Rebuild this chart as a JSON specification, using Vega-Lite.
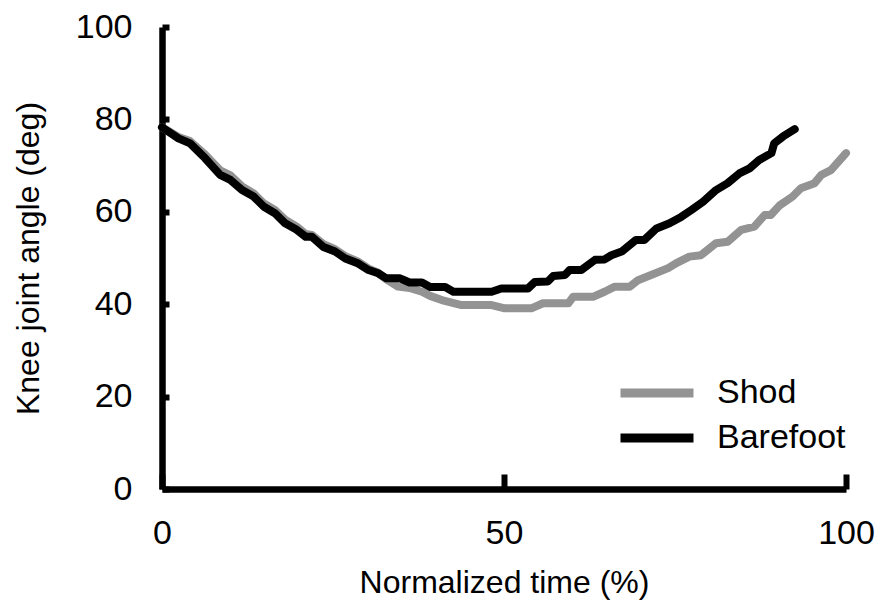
{
  "$schema": "https://vega.github.io/schema/vega-lite/v6.json",
  "width": 684,
  "height": 462,
  "autosize": {"type": "none"},
  "padding": {"left": 162, "top": 27, "right": 31, "bottom": 116},
  "background": "white",
  "config": {
    "view": {"stroke": null},
    "font": "Liberation Sans",
    "axis": {
      "grid": false,
      "domainColor": "black",
      "domainWidth": 6.5,
      "tickColor": "black",
      "tickWidth": 6,
      "labelFont": "Liberation Sans",
      "labelFontSize": 34,
      "labelColor": "black",
      "titleFont": "Liberation Sans",
      "titleFontSize": 32,
      "titleFontWeight": "normal",
      "titleColor": "black"
    },
    "legend": {
      "labelFont": "Liberation Sans",
      "labelFontSize": 34,
      "labelColor": "black"
    }
  },
  "data": {
    "values": [
      {"series": "Shod", "t": 0, "angle": 78.3},
      {"series": "Shod", "t": 2.4, "angle": 76.2},
      {"series": "Shod", "t": 4.1, "angle": 75.3},
      {"series": "Shod", "t": 6.3, "angle": 72.4},
      {"series": "Shod", "t": 8.5, "angle": 69.0},
      {"series": "Shod", "t": 10.0, "angle": 67.9},
      {"series": "Shod", "t": 11.7, "angle": 65.5},
      {"series": "Shod", "t": 13.4, "angle": 64.0},
      {"series": "Shod", "t": 14.9, "angle": 61.8},
      {"series": "Shod", "t": 16.5, "angle": 60.4},
      {"series": "Shod", "t": 18.0, "angle": 58.3},
      {"series": "Shod", "t": 19.7, "angle": 56.8},
      {"series": "Shod", "t": 21.0, "angle": 55.2},
      {"series": "Shod", "t": 21.9, "angle": 55.0},
      {"series": "Shod", "t": 23.6, "angle": 53.0},
      {"series": "Shod", "t": 25.3, "angle": 51.9},
      {"series": "Shod", "t": 26.8, "angle": 50.4},
      {"series": "Shod", "t": 28.7, "angle": 49.2},
      {"series": "Shod", "t": 30.2, "angle": 47.7},
      {"series": "Shod", "t": 31.6, "angle": 46.8},
      {"series": "Shod", "t": 32.8, "angle": 45.4},
      {"series": "Shod", "t": 34.5, "angle": 43.8},
      {"series": "Shod", "t": 36.2, "angle": 43.5},
      {"series": "Shod", "t": 38.0, "angle": 42.7},
      {"series": "Shod", "t": 39.2, "angle": 41.8},
      {"series": "Shod", "t": 40.9, "angle": 40.9},
      {"series": "Shod", "t": 42.5, "angle": 40.3},
      {"series": "Shod", "t": 43.8, "angle": 39.8},
      {"series": "Shod", "t": 48.2, "angle": 39.8},
      {"series": "Shod", "t": 50.1, "angle": 39.1},
      {"series": "Shod", "t": 54.0, "angle": 39.1},
      {"series": "Shod", "t": 55.7, "angle": 40.2},
      {"series": "Shod", "t": 59.4, "angle": 40.2},
      {"series": "Shod", "t": 60.1, "angle": 41.6},
      {"series": "Shod", "t": 63.0, "angle": 41.6},
      {"series": "Shod", "t": 64.7, "angle": 42.7},
      {"series": "Shod", "t": 66.2, "angle": 43.8},
      {"series": "Shod", "t": 68.4, "angle": 43.8},
      {"series": "Shod", "t": 69.6, "angle": 45.2},
      {"series": "Shod", "t": 71.5, "angle": 46.3},
      {"series": "Shod", "t": 74.0, "angle": 47.8},
      {"series": "Shod", "t": 75.2, "angle": 48.9},
      {"series": "Shod", "t": 77.1, "angle": 50.3},
      {"series": "Shod", "t": 78.8, "angle": 50.6},
      {"series": "Shod", "t": 81.0, "angle": 53.2},
      {"series": "Shod", "t": 82.7, "angle": 53.5},
      {"series": "Shod", "t": 84.7, "angle": 56.1},
      {"series": "Shod", "t": 86.6, "angle": 56.8},
      {"series": "Shod", "t": 88.1, "angle": 59.3},
      {"series": "Shod", "t": 89.0, "angle": 59.3},
      {"series": "Shod", "t": 90.3, "angle": 61.4},
      {"series": "Shod", "t": 92.2, "angle": 63.3},
      {"series": "Shod", "t": 93.4, "angle": 65.1},
      {"series": "Shod", "t": 95.4, "angle": 66.2},
      {"series": "Shod", "t": 96.4, "angle": 68.0},
      {"series": "Shod", "t": 97.8, "angle": 69.0},
      {"series": "Shod", "t": 100, "angle": 72.7},
      {"series": "Barefoot", "t": 0, "angle": 78.3},
      {"series": "Barefoot", "t": 2.4, "angle": 75.9},
      {"series": "Barefoot", "t": 4.1, "angle": 74.8},
      {"series": "Barefoot", "t": 6.3, "angle": 71.6},
      {"series": "Barefoot", "t": 8.5, "angle": 68.0},
      {"series": "Barefoot", "t": 10.0, "angle": 66.9},
      {"series": "Barefoot", "t": 11.7, "angle": 64.7},
      {"series": "Barefoot", "t": 13.4, "angle": 63.3},
      {"series": "Barefoot", "t": 14.9, "angle": 61.1},
      {"series": "Barefoot", "t": 16.5, "angle": 59.7},
      {"series": "Barefoot", "t": 18.0, "angle": 57.5},
      {"series": "Barefoot", "t": 19.7, "angle": 56.1},
      {"series": "Barefoot", "t": 21.0, "angle": 54.6},
      {"series": "Barefoot", "t": 21.9, "angle": 54.6},
      {"series": "Barefoot", "t": 23.6, "angle": 52.4},
      {"series": "Barefoot", "t": 25.3, "angle": 51.4},
      {"series": "Barefoot", "t": 26.8, "angle": 49.9},
      {"series": "Barefoot", "t": 28.7, "angle": 48.8},
      {"series": "Barefoot", "t": 30.2, "angle": 47.4},
      {"series": "Barefoot", "t": 31.6, "angle": 46.7},
      {"series": "Barefoot", "t": 32.8, "angle": 45.6},
      {"series": "Barefoot", "t": 34.8, "angle": 45.6},
      {"series": "Barefoot", "t": 36.2, "angle": 44.7},
      {"series": "Barefoot", "t": 38.0, "angle": 44.7},
      {"series": "Barefoot", "t": 39.2, "angle": 43.7},
      {"series": "Barefoot", "t": 41.4, "angle": 43.7},
      {"series": "Barefoot", "t": 42.6, "angle": 42.7},
      {"series": "Barefoot", "t": 48.2, "angle": 42.7},
      {"series": "Barefoot", "t": 49.6, "angle": 43.4},
      {"series": "Barefoot", "t": 53.5, "angle": 43.4},
      {"series": "Barefoot", "t": 54.5, "angle": 44.8},
      {"series": "Barefoot", "t": 56.4, "angle": 44.9},
      {"series": "Barefoot", "t": 57.2, "angle": 46.1},
      {"series": "Barefoot", "t": 58.9, "angle": 46.3},
      {"series": "Barefoot", "t": 59.6, "angle": 47.4},
      {"series": "Barefoot", "t": 61.3, "angle": 47.4},
      {"series": "Barefoot", "t": 63.3, "angle": 49.6},
      {"series": "Barefoot", "t": 64.7, "angle": 49.7},
      {"series": "Barefoot", "t": 65.7, "angle": 50.6},
      {"series": "Barefoot", "t": 67.2, "angle": 51.4},
      {"series": "Barefoot", "t": 69.3, "angle": 53.9},
      {"series": "Barefoot", "t": 70.5, "angle": 53.9},
      {"series": "Barefoot", "t": 72.3, "angle": 56.4},
      {"series": "Barefoot", "t": 74.2, "angle": 57.5},
      {"series": "Barefoot", "t": 75.9, "angle": 58.9},
      {"series": "Barefoot", "t": 77.4, "angle": 60.4},
      {"series": "Barefoot", "t": 79.1, "angle": 62.2},
      {"series": "Barefoot", "t": 81.0, "angle": 64.7},
      {"series": "Barefoot", "t": 82.7, "angle": 66.2},
      {"series": "Barefoot", "t": 84.4, "angle": 68.3},
      {"series": "Barefoot", "t": 85.9, "angle": 69.4},
      {"series": "Barefoot", "t": 87.3, "angle": 71.2},
      {"series": "Barefoot", "t": 89.1, "angle": 72.7},
      {"series": "Barefoot", "t": 89.5, "angle": 74.8},
      {"series": "Barefoot", "t": 90.8, "angle": 76.3},
      {"series": "Barefoot", "t": 92.5, "angle": 77.9}
    ]
  },
  "encoding": {
    "x": {
      "field": "t",
      "type": "quantitative",
      "scale": {"domain": [0, 100], "nice": false},
      "axis": {
        "title": "Normalized time (%)",
        "values": [0, 50, 100],
        "tickSize": -15,
        "labelPadding": 42,
        "titlePadding": 17,
        "labelFlush": false
      }
    },
    "y": {
      "field": "angle",
      "type": "quantitative",
      "scale": {"domain": [0, 100], "nice": false},
      "axis": {
        "title": "Knee joint angle (deg)",
        "values": [0, 20, 40, 60, 80, 100],
        "tickSize": -7,
        "labelPadding": 37,
        "titlePadding": 30,
        "labelFlush": false
      }
    },
    "color": {
      "field": "series",
      "type": "nominal",
      "scale": {"domain": ["Shod", "Barefoot"], "range": ["#939393", "#000000"]},
      "legend": {
        "title": null,
        "orient": "none",
        "legendX": 478,
        "legendY": 349,
        "symbolType": "M-4,0H4",
        "symbolSize": 333,
        "symbolStrokeWidth": 9,
        "labelOffset": 43,
        "rowPadding": 9,
        "padding": 0
      }
    }
  },
  "layer": [
    {
      "transform": [{"filter": "datum.series === 'Shod'"}],
      "mark": {"type": "line", "strokeWidth": 8, "strokeCap": "round", "strokeJoin": "round"}
    },
    {
      "transform": [{"filter": "datum.series === 'Barefoot'"}],
      "mark": {"type": "line", "strokeWidth": 8, "strokeCap": "round", "strokeJoin": "round"}
    }
  ]
}
